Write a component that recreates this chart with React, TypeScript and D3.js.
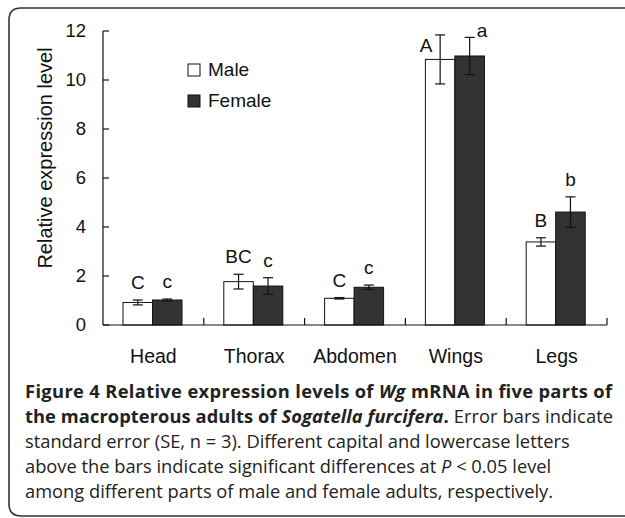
import React from 'react';
import * as d3 from 'd3';

const W = 625;
const H = 518;

const parts = ['Head', 'Thorax', 'Abdomen', 'Wings', 'Legs'];
const sexes = ['Male', 'Female'];
const maleMean = [0.92, 1.77, 1.09, 10.84, 3.39];
const maleSE = [0.1, 0.3, 0.03, 1.0, 0.17];
const femaleMean = [1.02, 1.59, 1.54, 10.98, 4.61];
const femaleSE = [0.04, 0.34, 0.09, 0.76, 0.62];
const maleLetters = ['C', 'BC', 'C', 'A', 'B'];
const femaleLetters = ['c', 'c', 'c', 'a', 'b'];
const yTicks = [0, 2, 4, 6, 8, 10, 12];

const fills = ['#ffffff', '#333333'];
const chartFont = '"Liberation Sans", Arial, sans-serif';
const capFont = '"Open Sans", sans-serif';

const App = () => {
    const x = d3.scaleBand<string>().domain(parts).range([103, 607]);
    const inner = d3.scaleBand<string>().domain(sexes).range([20, 79]);
    const y = d3.scaleLinear().domain([0, 12]).range([325, 31]);

    const series = [
        { sex: 'Male', mean: maleMean, se: maleSE, letters: maleLetters },
        { sex: 'Female', mean: femaleMean, se: femaleSE, letters: femaleLetters },
    ];

    const bw = inner.bandwidth();

    return (
        <svg
            width={W}
            height={H}
            style={{ position: 'absolute', left: 0, top: 0, background: '#fff' }}
        >
            {/* panel frame, right edge runs off the picture */}
            <path
                d={`M640,8 H21 Q9,8 9,20 V504 Q9,516 21,516 H640`}
                fill='none'
                stroke='#333'
                strokeWidth={1.6}
            />

            {/* bars */}
            {series.map((s, si) =>
                parts.map((p, i) => {
                    const bx = (x(p) ?? 0) + (inner(s.sex) ?? 0);
                    const cx = bx + bw / 2;
                    const top = y(s.mean[i] + s.se[i]);
                    const bot = y(s.mean[i] - s.se[i]);
                    const tall = s.mean[i] > 10;
                    let lx = cx;
                    let ly = top - 11;
                    let anchor: 'middle' | 'end' | 'start' = 'middle';
                    if (tall && si === 0) {
                        lx = bx + 7;
                        ly = y(s.mean[i]) - 7;
                        anchor = 'end';
                    } else if (tall) {
                        lx = cx + 7;
                        ly = top;
                        anchor = 'start';
                    }
                    return (
                        <g key={`${s.sex}-${p}`}>
                            <rect
                                x={bx}
                                y={y(s.mean[i])}
                                width={bw}
                                height={y(0) - y(s.mean[i])}
                                fill={fills[si]}
                                stroke='#111'
                                strokeWidth={1}
                            />
                            <g stroke='#111' strokeWidth={1.2}>
                                <line x1={cx} x2={cx} y1={top} y2={bot} />
                                <line x1={cx - 5} x2={cx + 5} y1={top} y2={top} />
                                <line x1={cx - 5} x2={cx + 5} y1={bot} y2={bot} />
                            </g>
                            <text
                                x={lx}
                                y={ly}
                                textAnchor={anchor}
                                fontFamily={chartFont}
                                fontSize={19}
                                fill='#111'
                            >
                                {s.letters[i]}
                            </text>
                        </g>
                    );
                })
            )}

            {/* y axis */}
            <g stroke='#111' strokeWidth={1.2}>
                <line x1={103} x2={103} y1={y(12)} y2={y(0)} />
                {yTicks.map(t => (
                    <line key={t} x1={103} x2={109} y1={y(t)} y2={y(t)} />
                ))}
            </g>
            {yTicks.map(t => (
                <text
                    key={t}
                    x={86}
                    y={y(t)}
                    dy='0.35em'
                    textAnchor='end'
                    fontFamily={chartFont}
                    fontSize={18.5}
                    fill='#111'
                >
                    {t}
                </text>
            ))}
            <text
                transform={`translate(52,158) rotate(-90)`}
                textAnchor='middle'
                fontFamily={chartFont}
                fontSize={20}
                fill='#111'
            >
                Relative expression level
            </text>

            {/* x axis */}
            <g stroke='#111' strokeWidth={1.2}>
                <line x1={103} x2={607} y1={y(0)} y2={y(0)} />
                {parts.map(p => (
                    <line
                        key={p}
                        x1={(x(p) ?? 0) + x.bandwidth()}
                        x2={(x(p) ?? 0) + x.bandwidth()}
                        y1={y(0)}
                        y2={y(0) - 7}
                    />
                ))}
            </g>
            {parts.map(p => (
                <text
                    key={p}
                    x={(x(p) ?? 0) + x.bandwidth() / 2}
                    y={363}
                    textAnchor='middle'
                    fontFamily={chartFont}
                    fontSize={19.5}
                    fill='#111'
                >
                    {p}
                </text>
            ))}

            {/* legend */}
            {sexes.map((s, i) => (
                <g key={s} transform={`translate(188,${64 + i * 31})`}>
                    <rect x={0} y={0} width={12} height={12} fill={fills[i]} stroke='#111' strokeWidth={1} />
                    <text x={20} y={12} fontFamily={chartFont} fontSize={19} fill='#111'>
                        {s}
                    </text>
                </g>
            ))}

            {/* caption */}
            <g fontFamily={capFont} fontSize={18.3} fill='#222'>
                <text x={25} y={398} fontWeight='bold' textLength={587} lengthAdjust='spacing'>
                    Figure 4 Relative expression levels of <tspan fontStyle='italic'>Wg</tspan> mRNA in five parts of
                </text>
                <text x={25} y={423} textLength={588} lengthAdjust='spacing'>
                    <tspan fontWeight='bold'>the macropterous adults of </tspan>
                    <tspan fontWeight='bold' fontStyle='italic'>Sogatella furcifera</tspan>
                    <tspan fontWeight='bold'>.</tspan> Error bars indicate
                </text>
                <text x={25} y={448}>
                    standard error (SE, n = 3). Different capital and lowercase letters
                </text>
                <text x={25} y={473}>
                    above the bars indicate significant differences at <tspan fontStyle='italic'>P</tspan> &lt; 0.05 level
                </text>
                <text x={25} y={498}>
                    among different parts of male and female adults, respectively.
                </text>
            </g>
        </svg>
    );
};

export default App;
